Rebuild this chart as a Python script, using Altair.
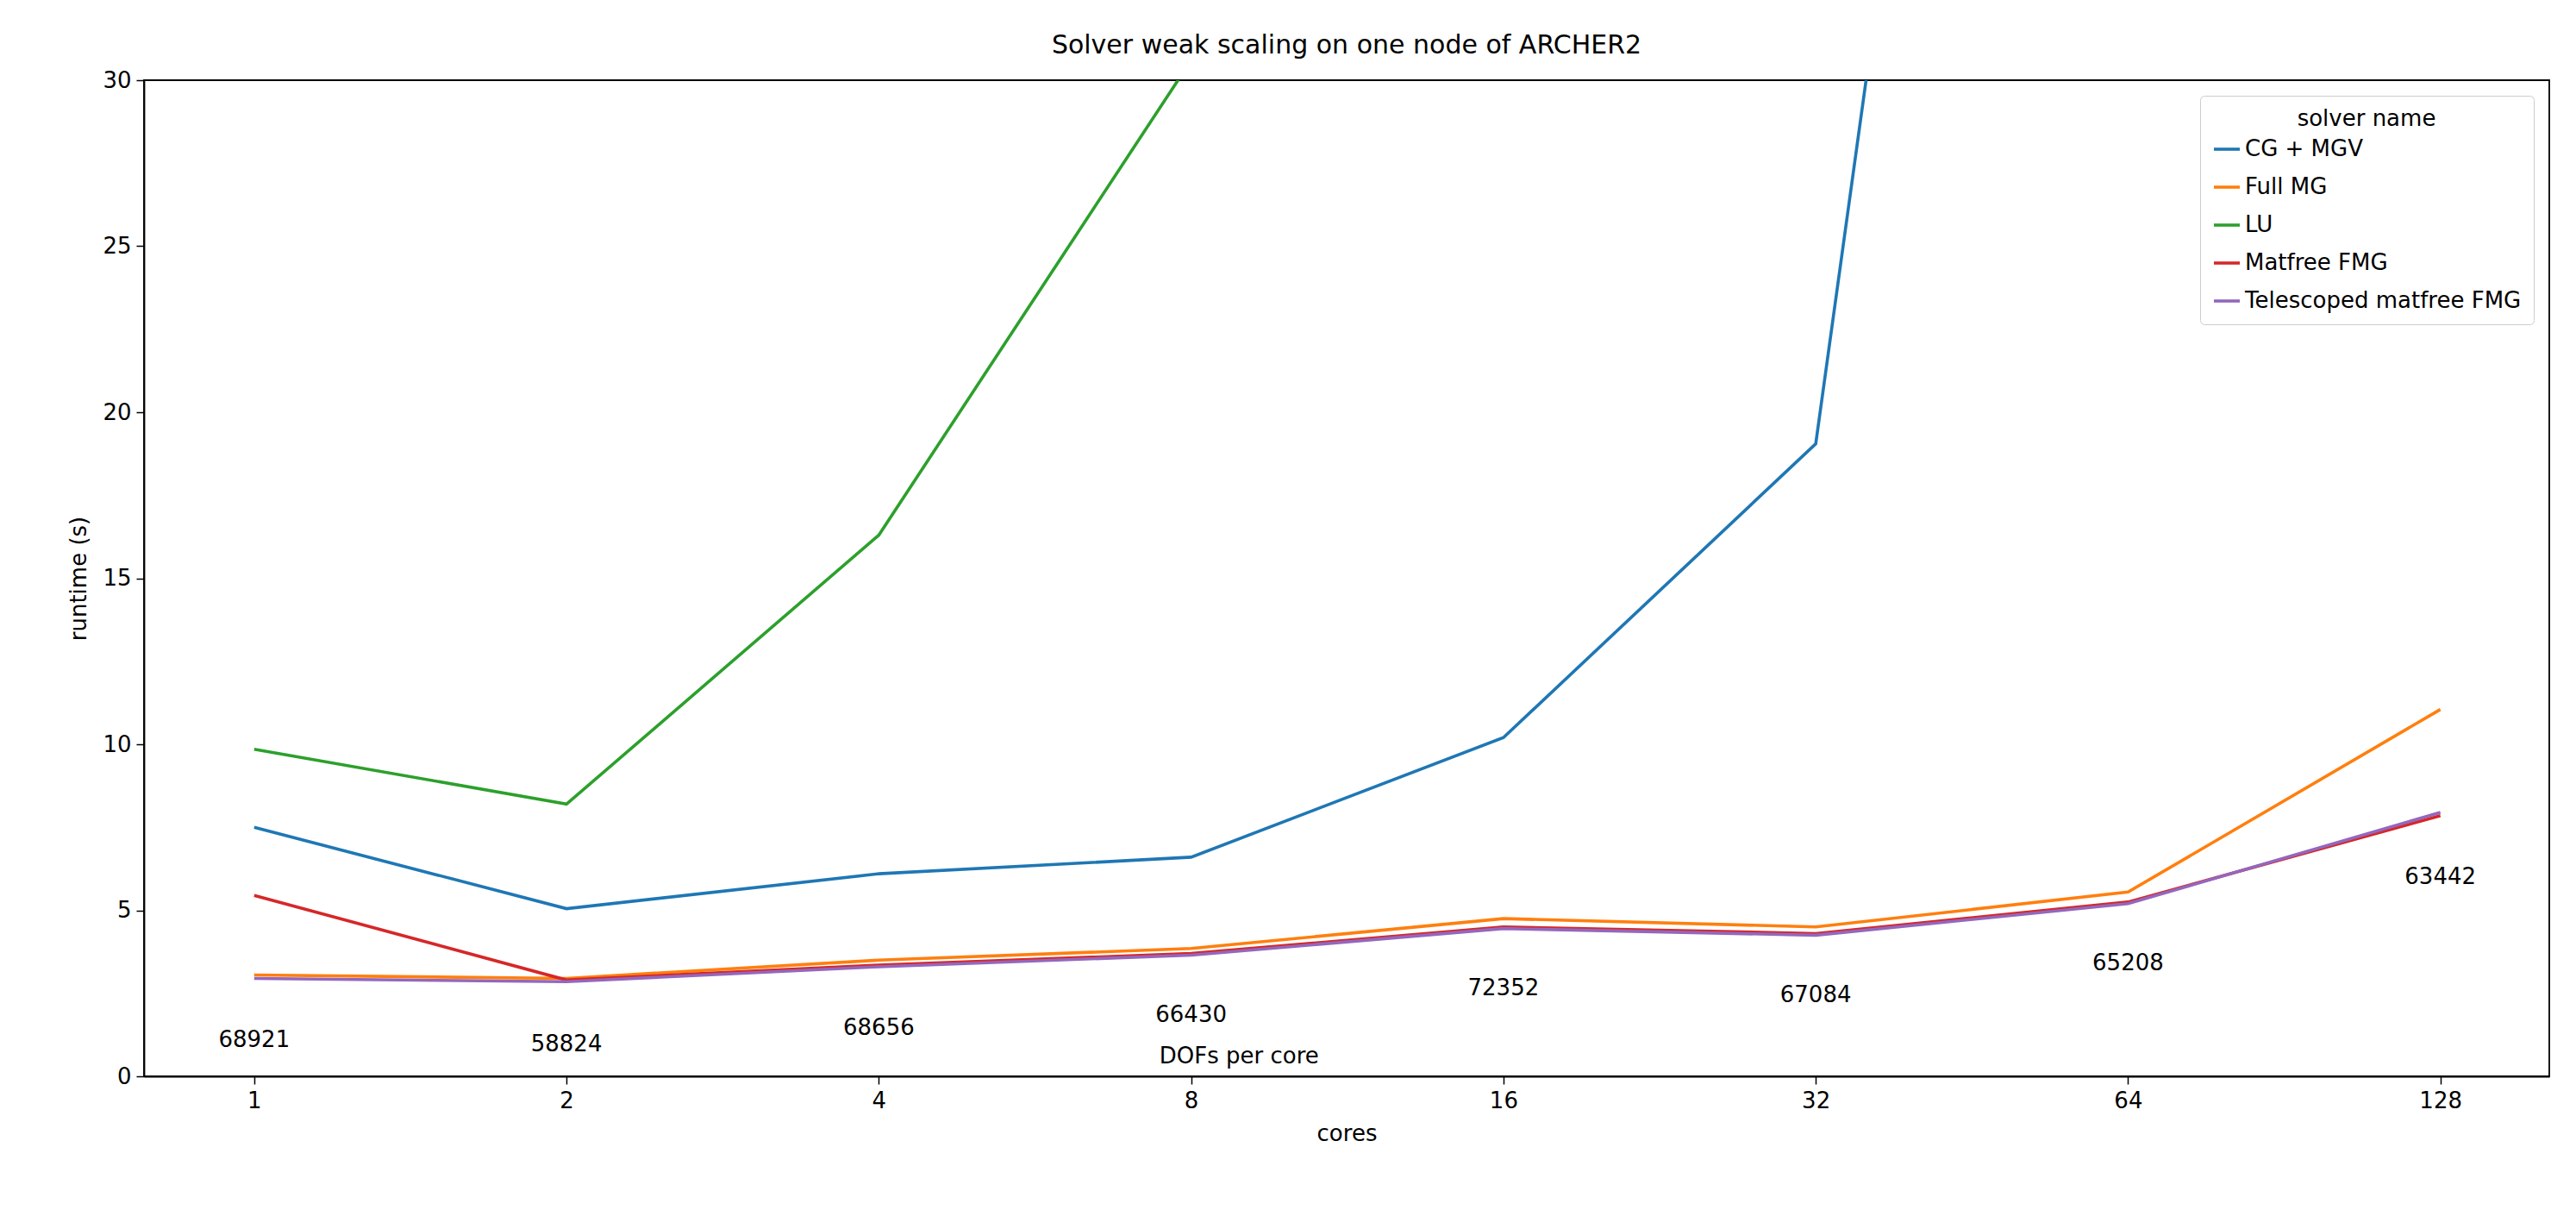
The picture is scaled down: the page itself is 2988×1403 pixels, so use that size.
import altair as alt
import pandas as pd

cores = [1, 2, 4, 8, 16, 32, 64, 128]
solvers = ["CG + MGV", "Full MG", "LU", "Matfree FMG", "Telescoped matfree FMG"]
cg_mgv = [7.5, 5.05, 6.1, 6.6, 10.2, 19.05, 87.0, 250.0]
full_mg = [3.05, 2.95, 3.5, 3.85, 4.75, 4.5, 5.55, 11.05]
lu_cores = [1, 2, 4, 8, 16]
lu = [9.85, 8.2, 16.3, 30.6, 60.0]
matfree = [5.45, 2.9, 3.35, 3.7, 4.5, 4.3, 5.25, 7.85]
telescoped = [2.95, 2.85, 3.3, 3.65, 4.45, 4.25, 5.2, 7.95]

dofs = ["68921", "58824", "68656", "66430", "72352", "67084", "65208", "63442"]
dof_y = [1.1, 0.95, 1.45, 1.85, 2.65, 2.45, 3.4, 6.0]

colors = ["#1f77b4", "#ff7f0e", "#2ca02c", "#d62728", "#9467bd"]
FONT = "DejaVu Sans"
FS = 26

rows = []
for name, xs, ys in [
    ("CG + MGV", cores, cg_mgv),
    ("Full MG", cores, full_mg),
    ("LU", lu_cores, lu),
    ("Matfree FMG", cores, matfree),
    ("Telescoped matfree FMG", cores, telescoped),
]:
    for x, y in zip(xs, ys):
        rows.append({"cores": x, "runtime": y, "solver name": name})
df = pd.DataFrame(rows)

xscale = alt.Scale(type="log", base=2, domain=[0.783, 163], nice=False)
yscale = alt.Scale(domain=[0, 30], nice=False)

lines = alt.Chart(df).mark_line(clip=True, strokeWidth=3.6).encode(
    x=alt.X("cores:Q", scale=xscale, title="cores",
            axis=alt.Axis(values=cores, format="d", grid=False, tickSize=9, tickWidth=1.5,
                          labelFontSize=FS, titleFontSize=FS, labelFlush=False,
                          labelPadding=6, titlePadding=12)),
    y=alt.Y("runtime:Q", scale=yscale, title="runtime (s)",
            axis=alt.Axis(values=[0, 5, 10, 15, 20, 25, 30], grid=False, tickSize=9,
                          tickWidth=1.5, labelFontSize=FS, titleFontSize=FS,
                          labelPadding=6, titlePadding=14)),
    color=alt.Color("solver name:N", scale=alt.Scale(domain=solvers, range=colors),
                    legend=alt.Legend(orient="top-right", title="solver name",
                                      labelFontSize=FS, titleFontSize=FS, labelLimit=0,
                                      titleFontWeight="normal", titleAnchor="middle",
                                      symbolType="stroke", symbolSize=900,
                                      symbolStrokeWidth=3.6, fillColor="white",
                                      strokeColor="#cccccc", padding=14,
                                      cornerRadius=5, rowPadding=14, offset=18)),
)

lab = pd.DataFrame({"cores": cores, "y": dof_y, "dof": dofs})
labels = alt.Chart(lab).mark_text(fontSize=FS, font=FONT, color="black").encode(
    x=alt.X("cores:Q", scale=xscale), y=alt.Y("y:Q", scale=yscale), text="dof:N")

title_df = pd.DataFrame({"cores": [8.9], "y": [0.6], "t": ["DOFs per core"]})
dtitle = alt.Chart(title_df).mark_text(fontSize=FS, font=FONT, color="black",
                                       align="center").encode(
    x=alt.X("cores:Q", scale=xscale), y=alt.Y("y:Q", scale=yscale), text="t:N")

chart = (lines + labels + dtitle).properties(
    width=2790, height=1155,
    padding={"left": 70, "top": 30, "right": 5, "bottom": 5},
    title=alt.Title("Solver weak scaling on one node of ARCHER2", fontSize=30,
                    fontWeight="normal", font=FONT, offset=12),
).configure(font=FONT).configure_view(stroke="black", strokeWidth=1.8).configure_axis(
    domainColor="black", domainWidth=1.8, tickColor="black", labelColor="black",
    titleColor="black", titleFontWeight="normal")

chart.save("out.html", embed_options={"renderer": "svg", "actions": False})
